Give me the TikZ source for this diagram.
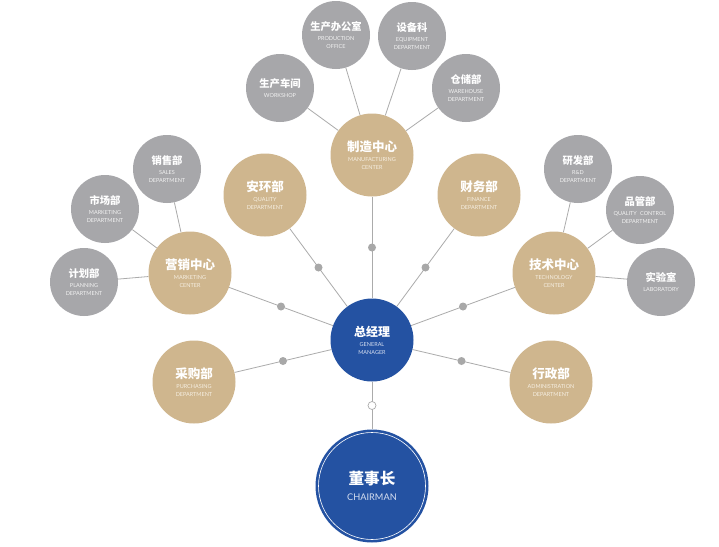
\documentclass[tikz,border=0pt]{standalone}
\usepackage{fontspec}
\setmainfont{Lato}
\newfontfamily\zhf{Noto Sans CJK SC}
\usetikzlibrary{backgrounds}
\definecolor{goldfill}{HTML}{CFB68E}
\definecolor{grayfill}{HTML}{A7A7AA}
\definecolor{bluefill}{HTML}{2452A2}
\definecolor{linec}{HTML}{ABABAB}
\definecolor{dotfill}{HTML}{A8A8A8}
\definecolor{goldtxt}{HTML}{F6EFE2}
\definecolor{graytxt}{HTML}{F2F2F2}
\definecolor{bluetxt}{HTML}{D5DEF0}
\newcommand\cnline[2]{{\zhf\bfseries\fontsize{#1}{#1}\selectfont\color{white}#2\par}}
\newcommand\enlines[3]{\vspace{#1}{\fontsize{5.5}{7.4}\selectfont\color{#2}#3\par}}
\tikzset{
  orgbase/.style={circle, inner sep=-20pt, align=center, text width=76pt},
  goldc/.style={orgbase, fill=goldfill, minimum size=83pt},
  grayc/.style={orgbase, fill=grayfill, minimum size=68pt},
  bluec/.style={orgbase, fill=bluefill, minimum size=83pt},
  bigblue/.style={orgbase, fill=bluefill, minimum size=113pt},
  link/.style={draw=linec, line width=0.8pt},
  dotn/.style={circle, fill=dotfill, inner sep=0pt, minimum size=8pt},
  ringn/.style={circle, draw=linec, fill=white, line width=0.7pt, inner sep=0pt, minimum size=8pt},
}
\begin{document}
\begin{tikzpicture}[x=1pt,y=-1pt]
\useasboundingbox (0,0) rectangle (719,546);
% central
\node[bigblue] (ch) at (372,486) {{\zhf\bfseries\fontsize{15.6}{16}\selectfont\color{white}董事长\par}\vspace{5pt}{\fontsize{9.2}{11}\selectfont\color{bluetxt}CHAIRMAN\par}};
\draw[white, line width=0.6pt] (ch.center) circle[radius=53.5pt];
\node[bluec] (gm) at (372,340) {\cnline{12}{总经理}\enlines{3pt}{bluetxt}{GENERAL\\MANAGER}};
% gold
\node[goldc] (mfg) at (372,155) {\cnline{12.5}{制造中心}\enlines{3pt}{goldtxt}{MANUFACTURING\\CENTER}};
\node[goldc] (qua) at (265,195) {\cnline{12.5}{安环部}\enlines{3pt}{goldtxt}{QUALITY\\DEPARTMENT}};
\node[goldc] (fin) at (479,195) {\cnline{12.5}{财务部}\enlines{3pt}{goldtxt}{FINANCE\\DEPARTMENT}};
\node[goldc] (mkt) at (190,273) {\cnline{12.5}{营销中心}\enlines{3pt}{goldtxt}{MARKETING\\CENTER}};
\node[goldc] (tec) at (554,273) {\cnline{12.5}{技术中心}\enlines{3pt}{goldtxt}{TECHNOLOGY\\CENTER}};
\node[goldc] (pur) at (194,382) {\cnline{12.5}{采购部}\enlines{3pt}{goldtxt}{PURCHASING\\DEPARTMENT}};
\node[goldc] (adm) at (551,382) {\cnline{12.5}{行政部}\enlines{3pt}{goldtxt}{ADMINISTRATION\\DEPARTMENT}};
% gray top
\node[grayc] (wks) at (280,88) {\cnline{10.3}{生产车间}\enlines{3pt}{graytxt}{WORKSHOP}};
\node[grayc] (pof) at (336,35) {\cnline{10.3}{生产办公室}\enlines{3pt}{graytxt}{PRODUCTION\\OFFICE}};
\node[grayc] (eqp) at (412,36) {\cnline{10.3}{设备科}\enlines{3pt}{graytxt}{EQUIPMENT\\DEPARTMENT}};
\node[grayc] (whs) at (466,88) {\cnline{10.3}{仓储部}\enlines{3pt}{graytxt}{WAREHOUSE\\DEPARTMENT}};
% gray left
\node[grayc] (sal) at (167,169) {\cnline{10.3}{销售部}\enlines{3pt}{graytxt}{SALES\\DEPARTMENT}};
\node[grayc] (mar) at (105,209) {\cnline{10.3}{市场部}\enlines{3pt}{graytxt}{MARKETING\\DEPARTMENT}};
\node[grayc] (pln) at (84,282) {\cnline{10.3}{计划部}\enlines{3pt}{graytxt}{PLANNING\\DEPARTMENT}};
% gray right
\node[grayc] (rnd) at (578,169) {\cnline{10.3}{研发部}\enlines{3pt}{graytxt}{R\&D\\DEPARTMENT}};
\node[grayc] (qcd) at (640,210) {\cnline{10.3}{品管部}\enlines{3pt}{graytxt}{QUALITY CONTROL\\DEPARTMENT}};
\node[grayc] (lab) at (661,282) {\cnline{10.3}{实验室}\enlines{3pt}{graytxt}{LABORATORY}};
\begin{scope}[on background layer]
\fill[white] (0,0) rectangle (719,546);
\draw[link] (gm) -- node[ringn] (r0) {} (ch);
\draw[link] (gm) -- node[dotn] (d1) {} (mfg);
\draw[link] (gm) -- node[dotn] (d2) {} (qua);
\draw[link] (gm) -- node[dotn] (d3) {} (fin);
\draw[link] (gm) -- node[dotn] (d4) {} (mkt);
\draw[link] (gm) -- node[dotn] (d5) {} (tec);
\draw[link] (gm) -- node[dotn] (d6) {} (pur);
\draw[link] (gm) -- node[dotn] (d7) {} (adm);
\draw[link] (mfg) -- (wks);
\draw[link] (mfg) -- (pof);
\draw[link] (mfg) -- (eqp);
\draw[link] (mfg) -- (whs);
\draw[link] (mkt) -- (sal);
\draw[link] (mkt) -- (mar);
\draw[link] (mkt) -- (pln);
\draw[link] (tec) -- (rnd);
\draw[link] (tec) -- (qcd);
\draw[link] (tec) -- (lab);
\end{scope}
\end{tikzpicture}
\end{document}
